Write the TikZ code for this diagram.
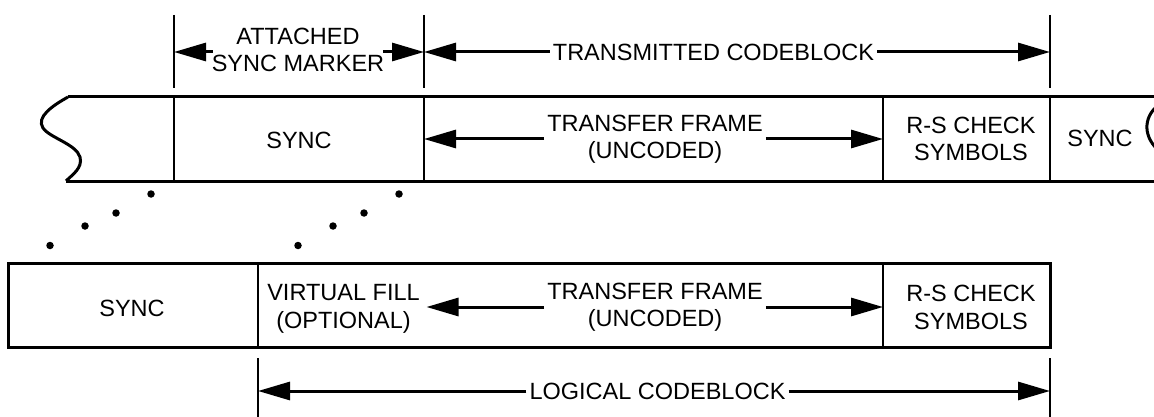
\documentclass[tikz,border=0pt]{standalone}
\usepackage{fontspec}
\setmainfont{Liberation Sans}
\usetikzlibrary{arrows.meta}
\begin{document}
\begin{tikzpicture}[x=1pt,y=-1pt,
  lbl/.style={inner sep=0pt, align=center, font=\fontsize{23.5}{27.5}\selectfont},
  gaplbl/.style={lbl, inner xsep=3pt},
  band/.style={line width=3pt},
  divider/.style={line width=2.5pt},
  tick/.style={line width=2.3pt},
  dimarrow/.style={line width=3pt, -{Triangle[length=32pt,width=18pt]}},
  dotc/.style={fill, circle, inner sep=0pt, minimum size=7.5pt}]
\useasboundingbox (0,0) rectangle (1154,417);
\clip (0,0) rectangle (1154,417);

% ---------- ticks (named coordinates) ----------
\coordinate (ta1) at (174,15);  \coordinate (tb1) at (174,88);
\coordinate (ta2) at (424,15);  \coordinate (tb2) at (424,88);
\coordinate (ta3) at (1050,15); \coordinate (tb3) at (1050,88);
\draw[tick] (ta1) -- (tb1);
\draw[tick] (ta2) -- (tb2);
\draw[tick] (ta3) -- (tb3);

% ---------- top dimension labels ----------
\node[lbl] (asm) at (298,50) {ATTACHED\\SYNC MARKER};
\draw[dimarrow] ([xshift=1pt]asm.west |- 0,52) -- (tb1 |- 0,52);
\draw[dimarrow] ([xshift=-1pt]asm.east |- 0,52) -- (tb2 |- 0,52);

\node[gaplbl] (tc) at (713.5,52) {TRANSMITTED CODEBLOCK};
\draw[dimarrow] (tc.west) -- (tc.west -| tb2);
\draw[dimarrow] (tc.east) -- (tc.east -| tb3);

% ---------- top band ----------
\coordinate (bl) at (68,97);
\coordinate (blb) at (66,181);
\coordinate (br) at (1160,97);
\coordinate (brb) at (1160,181);
\draw[band] (bl) -- (br);
\draw[band] (blb) -- (brb);
\draw[band, line join=miter] (bl) .. controls (52,106) and (36,117) .. (43,128)
  .. controls (50,138) and (76,144) .. (80,157)
  .. controls (83,168) and (72,175) .. (blb);
\draw[band] (1160,104) .. controls (1145,114) and (1141,134) .. (1158,150);
\draw[divider] (174,97) -- (174,181);
\draw[divider] (424,97) -- (424,181);
\draw[divider] (883,97) -- (883,181);
\draw[divider] (1050,97) -- (1050,181);

\node[lbl] (sync1) at (299,140) {SYNC};
\node[gaplbl] (tf1) at (655,139) {TRANSFER FRAME\\(UNCODED)};
\draw[dimarrow] (tf1.west) -- (tf1.west -| 424,0);
\draw[dimarrow] (tf1.east) -- (tf1.east -| 883,0);
\node[lbl] (rs1) at (971,139) {R-S CHECK\\SYMBOLS};
\node[lbl] (sync2) at (1100,138) {SYNC};

% ---------- dots ----------
\foreach \x/\y [count=\i] in {50/245.5,85/226,116/213,151/194} {
  \node[dotc] (dl\i) at (\x,\y) {};
}
\foreach \x/\y [count=\i] in {298/245.5,333/226,364/213,399/194} {
  \node[dotc] (dr\i) at (\x,\y) {};
}

% ---------- bottom band ----------
\draw[band] (8,263) rectangle (1050,347);
\draw[divider] (258,263) -- (258,347);
\draw[divider] (883,263) -- (883,347);

\node[lbl] (sync3) at (132,308) {SYNC};
\node[lbl] (vf) at (343.5,309) {VIRTUAL FILL\\(OPTIONAL)};
\node[gaplbl] (tf2) at (655,307) {TRANSFER FRAME\\(UNCODED)};
\coordinate (vfend) at (426.5,307);
\draw[dimarrow] (tf2.west) -- (vfend);
\draw[dimarrow] (tf2.east) -- (tf2.east -| 883,0);
\node[lbl] (rs2) at (971,307.5) {R-S CHECK\\SYMBOLS};

% ---------- logical codeblock ----------
\coordinate (lt1) at (258,358); \coordinate (lb1) at (258,420);
\coordinate (lt2) at (1050,358); \coordinate (lb2) at (1050,420);
\draw[tick] (lt1) -- (lb1);
\draw[tick] (lt2) -- (lb2);
\node[gaplbl] (lc) at (657.5,391) {LOGICAL CODEBLOCK};
\draw[dimarrow] (lc.west) -- (lc.west -| lt1);
\draw[dimarrow] (lc.east) -- (lc.east -| lt2);
\end{tikzpicture}
\end{document}
